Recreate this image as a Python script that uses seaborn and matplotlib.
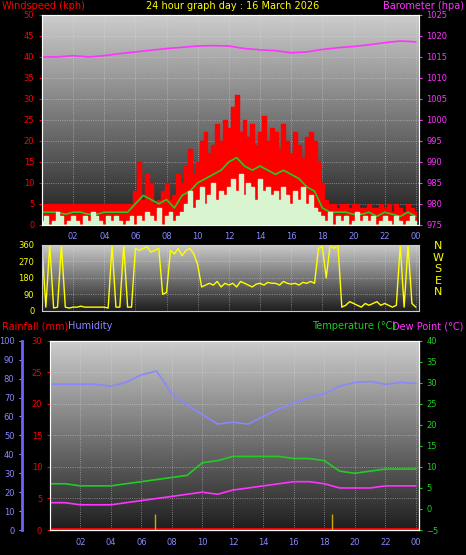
import numpy as np
import matplotlib
matplotlib.use("Agg")
import matplotlib.pyplot as plt
import seaborn as sns
import pandas as pd

sns.set_style("dark")
plt.rcParams['font.family'] = ['DejaVu Sans']

t15 = np.arange(97) * 0.25
t30 = np.arange(49) * 0.5
t60 = np.arange(25) * 1.0

gust = [5]*24 + [8,15,6,12,10,5,6,8,10,6,7,12,
        10,14,18,12,15,20,22,17,19,24,20,25,
        23,28,31,22,25,21,24,19,22,26,20,23,
        22,18,24,20,17,22,19,16,21,22,20,15,
        10,6,5,5,4,5,5,4,5,5,4,4,
        5,4,4,5,4,5,3,5,4,3,5,4,3]
avg = [3,3,3,2.5,3,3,2.5,2.5,3,3,3,3,
       5,7,6,5,6,4,7,8,10,11,12,13,
       15,16,14,13,14,13,12,13,12,11,9,8,
       4,3,3,3,2.5,2.5,3,2,3,2.5,2,3,2]
speed = [1,2,0,1,3,2,0,1,2,1,0,2,1,3,2,1,0,2,1,2,1,0,1,2,
         0,2,1,3,2,1,4,0,2,3,1,2,
         3,5,8,4,6,9,5,7,10,6,8,7,
         9,11,8,12,7,10,9,6,11,8,9,7,
         8,6,9,7,5,8,6,9,5,7,4,3,
         2,1,3,0,2,1,2,0,1,3,1,2,
         1,2,0,1,2,1,0,2,1,0,1,2,1]
baro = [1015,1015,1015.3,1015,1015.3,1015.8,1016.2,1016.6,1017,1017.3,1017.6,1017.7,
        1017.6,1017,1016.7,1016.5,1016,1016.2,1016.8,1017.2,1017.5,1017.9,1018.4,1018.8,1018.6]
direction = [360,20,360,15,20,360,20,15,20,20,25,20,20,20,20,20,20,15,360,20,20,360,20,20,
             340,330,340,350,320,330,340,90,100,330,310,340,
             300,330,340,310,250,130,140,150,140,160,130,150,
             140,150,130,160,150,140,130,145,150,140,155,150,
             150,140,160,150,145,150,140,155,150,160,150,340,
             350,180,360,340,360,20,30,50,40,30,20,40,
             30,40,50,30,40,30,20,30,360,20,360,40,20]
humidity = [77,77,77,77,76,78,82,84,72,66,61,56,57,56,60,64,67,70,72,76,78,78.5,77,78,77.5]
temperature = [6,6,5.5,5.5,5.5,6,6.5,7,7.5,8,11,11.5,12.5,12.5,12.5,12.5,12,12,11.5,9,8.5,9,9.5,9.5,9.5]
dewpoint = [1.5,1.5,1,1,1,1.5,2,2.5,3,3.5,4,3.5,4.5,5,5.5,6,6.5,6.5,6,5,5,5,5.5,5.5,5.5]
rain_times = [6.9, 18.5]
rain_heights = [2.5, 2.5]
hour_ticks = [2,4,6,8,10,12,14,16,18,20,22,24]
hour_labels = ['02','04','06','08','10','12','14','16','18','20','22','00']

fig = plt.figure(figsize=(4.66,5.55), dpi=100, facecolor='black')
grad = np.linspace(0.8, 0.12, 256).reshape(-1,1)

def style(ax, xlabels=True):
    ax.set_facecolor('black')
    ax.imshow(grad, extent=[0,24.2,0,1], transform=ax.transAxes, cmap='gray',
              vmin=0, vmax=1, aspect='auto', zorder=0)
    ax.set_xlim(0,24.2)
    ax.set_xticks(hour_ticks)
    ax.set_xticklabels(hour_labels if xlabels else [], color='#8888ff', fontsize=6)
    ax.tick_params(axis='x', colors='#8888ff', length=2, labelsize=6)
    ax.grid(True, color='#dddddd', linestyle=':', linewidth=0.6, alpha=0.6)
    for s in ax.spines.values():
        s.set_color('#cccccc')

ax1 = fig.add_axes([0.09,0.595,0.809,0.378])
style(ax1)
ax1.fill_between(t15, gust, step='mid', color='red', zorder=2)
ax1.fill_between(t15, speed, step='mid', color='#d8f5d0', zorder=4)
sns.lineplot(x=t30, y=avg, ax=ax1, color='#22cc22', lw=1.2, zorder=3)
ax1.set_ylim(0,50)
ax1.set_yticks(range(0,51,5))
ax1.tick_params(axis='y', colors='red', labelsize=6, length=2)
ax1b = ax1.twinx()
sns.lineplot(x=t60, y=baro, ax=ax1b, color='#ff33ff', lw=1.2)
ax1b.set_ylim(975,1025)
ax1b.set_yticks(range(975,1026,5))
ax1b.tick_params(axis='y', colors='#ff33ff', labelsize=6, length=2)
ax1b.set_ylabel('')
fig.text(0.005,0.99,'Windspeed (kph)', color='red', fontsize=7, va='center')
fig.text(0.5,0.99,'24 hour graph day : 16 March 2026', color='yellow', fontsize=7, ha='center', va='center')
fig.text(0.995,0.99,'Barometer (hpa)', color='#ff33ff', fontsize=7, ha='right', va='center')

ax2 = fig.add_axes([0.09,0.44,0.809,0.119])
style(ax2, xlabels=False)
sns.lineplot(x=t15, y=direction, ax=ax2, color='yellow', lw=1)
ax2.set_ylim(0,360)
ax2.set_yticks([0,90,180,270,360])
ax2.tick_params(axis='y', colors='yellow', labelsize=6, length=2)
for lab, yy in zip(['N','W','S','E','N'], [0.557,0.536,0.515,0.494,0.473]):
    fig.text(0.94, yy, lab, color='yellow', fontsize=8, ha='center', va='center')

ax3 = fig.add_axes([0.107,0.045,0.792,0.341])
style(ax3)
ax3.set_ylim(0,30)
ax3.set_yticks(range(0,31,5))
ax3.tick_params(axis='y', colors='red', labelsize=6, length=2)
ax3.axhline(0.15, color='red', lw=2, zorder=3)
ax3.vlines(rain_times, 0, rain_heights, color='#ccaa00', lw=1, zorder=3)
axh = ax3.twinx()
axh.spines['left'].set_position(('outward', 20))
axh.spines['left'].set_visible(True)
axh.spines['left'].set_color('#6666ff')
axh.spines['left'].set_linewidth(2)
axh.yaxis.set_label_position('left'); axh.yaxis.set_ticks_position('left')
sns.lineplot(x=t60, y=humidity, ax=axh, color='#8888ff', lw=1.2)
axh.set_ylim(0,100)
axh.set_yticks(range(0,101,10))
axh.tick_params(axis='y', colors='#8888ff', labelsize=6, length=2)
axh.set_ylabel('')
axt = ax3.twinx()
sns.lineplot(x=t60, y=temperature, ax=axt, color='#22cc22', lw=1.2)
sns.lineplot(x=t60, y=dewpoint, ax=axt, color='#ff33ff', lw=1.2)
axt.set_ylim(-5,40)
axt.set_yticks(range(-5,41,5))
axt.tick_params(axis='y', colors='#22cc22', labelsize=6, length=2)
axt.set_ylabel('')
fig.text(0.005,0.412,'Rainfall (mm)', color='red', fontsize=7, va='center')
fig.text(0.145,0.412,'Humidity', color='#8888ff', fontsize=7, va='center')
fig.text(0.67,0.412,'Temperature (°C)', color='#22cc22', fontsize=7, va='center')
fig.text(0.995,0.412,'Dew Point (°C)', color='#ff33ff', fontsize=7, ha='right', va='center')

fig.savefig('out.png', dpi=100, facecolor='black')
